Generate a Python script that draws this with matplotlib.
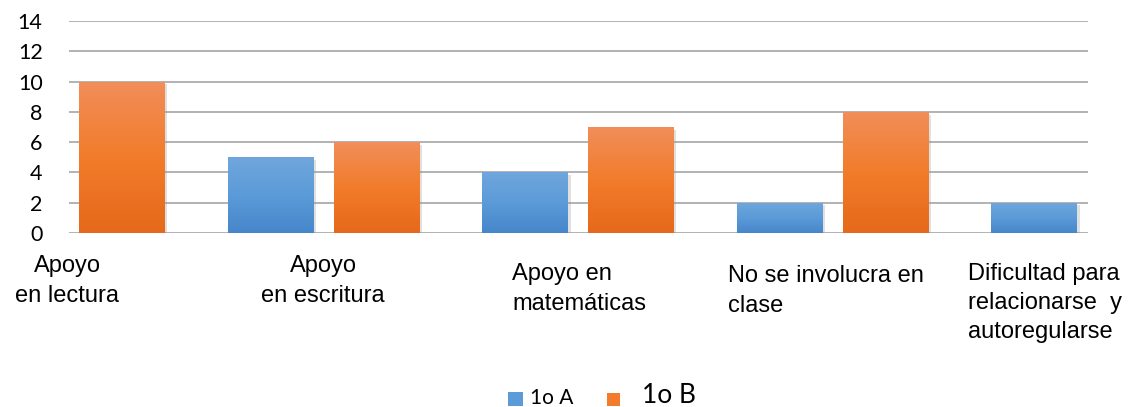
import numpy as np
import matplotlib
matplotlib.use("Agg")
import matplotlib.pyplot as plt
import matplotlib.patheffects as pe
from matplotlib.colors import LinearSegmentedColormap
from matplotlib.patches import Rectangle

# data
categories = ["Apoyo\nen lectura", "Apoyo\nen escritura", "Apoyo en\nmatemáticas",
              "No se involucra en\nclase", "Dificultad para\nrelacionarse  y\nautoregularse"]
grupo_a = [0, 5, 4, 2, 2]
grupo_b = [10, 6, 7, 8, 0]
series = ["1o A", "1o B"]
yticks = [0, 2, 4, 6, 8, 10, 12, 14]

W, H = 1128, 407


def px(x, y):
    return x / W, 1 - y / H


fig = plt.figure(figsize=(W / 100, H / 100), dpi=100)
ax = fig.add_axes([69 / W, 1 - 233 / H, (1088 - 69) / W, (233 - 21) / H])

blue_cmap = LinearSegmentedColormap.from_list("b", ["#4686cb", "#5b9bd8", "#70a6dc"])
orange_cmap = LinearSegmentedColormap.from_list("o", ["#e5691a", "#f27c2b", "#f18e5a"])

x = np.arange(len(categories))
off, w = 0.208, 0.336
shadow = [pe.SimplePatchShadow(offset=(2, -2), shadow_rgbFace="#999999", alpha=0.3), pe.Normal()]

grad = np.linspace(0, 1, 256).reshape(-1, 1)
for vals, dx, cmap in [(grupo_a, -off, blue_cmap), (grupo_b, off, orange_cmap)]:
    bars = ax.bar(x + dx, vals, width=w, color=cmap(0.5), linewidth=0, zorder=2, path_effects=shadow)
    for b, v in zip(bars, vals):
        if v <= 0:
            continue
        x0, y0 = b.get_x(), b.get_y()
        im = ax.imshow(grad, cmap=cmap, origin="lower", aspect="auto",
                       extent=[x0, x0 + b.get_width(), y0, y0 + b.get_height()], zorder=2.5)
        im.set_clip_path(b)

ax.set_xlim(0, 4.004)
ax.set_ylim(0, 14)
ax.set_yticks(yticks)
ax.set_xticks([])
ax.yaxis.grid(True, color="#a6a6a6", linewidth=1.2)
ax.set_axisbelow(True)
for s in ax.spines.values():
    s.set_visible(False)
ax.tick_params(axis="y", length=0, pad=19, labelsize=15.5)
for t in ax.get_yticklabels():
    t.set_fontfamily("Lato")

# category labels, placed like the original
label_pos = [(67, 281, "center"), (323, 281, "center"), (512, 289, "left"),
             (728, 291, "left"), (968, 303, "left")]
for lab, (lx, ly, ha) in zip(categories, label_pos):
    fig.text(*px(lx, ly), lab, ha=ha, va="center", multialignment=ha,
             fontsize=17, family="Liberation Sans", linespacing=1.42)

# legend at the bottom
fig.patches.append(Rectangle(px(508, 406), 15 / W, 14 / H, transform=fig.transFigure,
                             facecolor="#5b9bd8", edgecolor="none"))
fig.patches.append(Rectangle(px(607, 406), 13 / W, 13 / H, transform=fig.transFigure,
                             facecolor="#f27c2b", edgecolor="none"))
fig.text(*px(530, 404), series[0], ha="left", va="baseline", fontsize=15, family="Lato")
fig.text(*px(642, 403), series[1], ha="left", va="baseline", fontsize=19, family="Lato")

fig.savefig("out.png", dpi=100)
